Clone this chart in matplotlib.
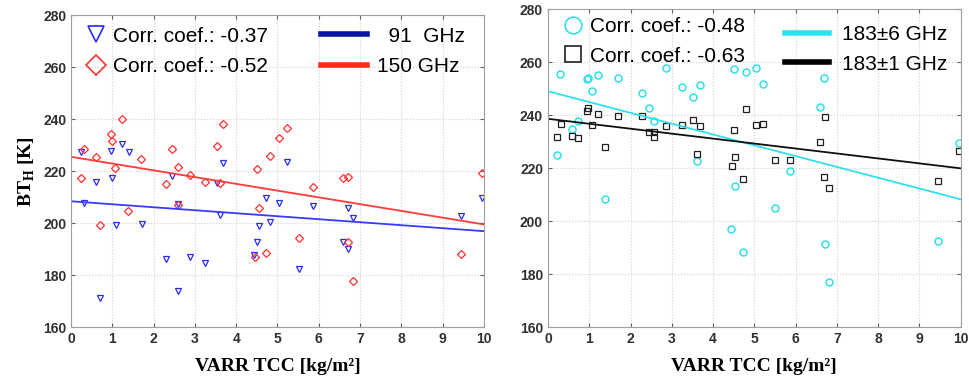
import numpy as np
import matplotlib
matplotlib.use("Agg")
from matplotlib import pyplot as plt
from matplotlib.lines import Line2D

# ---- data ----
# left panel: 91 GHz (triangles) and 150 GHz (diamonds)
x91 = [0.23, 0.6, 0.98, 0.99, 1.23, 1.4, 2.45, 3.53, 3.69, 5.23, 0.32, 0.71, 1.09, 1.71,
       2.3, 2.59, 2.59, 2.89, 3.25, 3.6, 4.44, 4.5, 4.55, 4.73, 4.81, 5.05, 5.52, 5.87,
       6.58, 6.7, 6.72, 6.84, 9.45, 9.96]
y91 = [227.2, 215.9, 227.8, 217.2, 230.6, 227.4, 218.1, 215.3, 223.2, 223.6, 207.6, 171.3,
       199.4, 199.6, 186.0, 207.4, 174.0, 187.0, 184.5, 203.3, 187.6, 192.6, 198.7, 209.6,
       200.4, 207.6, 182.4, 206.5, 192.6, 205.9, 190.1, 201.8, 202.9, 209.6]
x150 = [0.23, 0.31, 0.6, 0.98, 0.99, 1.07, 1.23, 1.7, 2.3, 2.45, 2.6, 2.89, 3.25, 3.53,
        3.6, 3.69, 4.5, 4.82, 5.05, 5.23, 5.87, 6.58, 6.72, 9.96, 0.71, 1.38, 2.58, 4.55,
        4.46, 4.73, 5.52, 6.72, 6.84, 9.45]
y150 = [217.2, 228.5, 225.3, 234.2, 231.5, 221.3, 240.0, 224.7, 214.9, 228.7, 221.7, 218.5,
        215.9, 229.7, 215.6, 238.0, 220.8, 225.9, 232.6, 236.4, 213.7, 217.2, 217.8, 219.1,
        199.1, 204.5, 207.0, 205.9, 187.1, 188.4, 194.3, 192.6, 177.8, 188.3]

# right panel: 183+-6 GHz (circles) and 183+-1 GHz (squares)
x183_6 = [0.23, 0.3, 0.59, 0.72, 0.95, 0.98, 1.06, 1.21, 1.69, 2.29, 2.44, 2.57, 2.87, 3.24,
          3.52, 3.6, 3.69, 4.5, 4.54, 4.8, 5.04, 5.22, 5.86, 6.58, 6.69, 9.96, 1.38, 4.44,
          4.72, 5.51, 6.7, 6.82, 9.44]
y183_6 = [224.8, 255.5, 234.9, 237.8, 253.6, 254.0, 249.2, 255.0, 254.0, 248.4, 242.8, 237.7,
          257.8, 250.5, 246.9, 222.8, 251.3, 257.4, 213.3, 256.4, 257.8, 251.8, 219.0, 242.9,
          254.0, 229.4, 208.2, 197.2, 188.3, 205.0, 191.3, 177.1, 192.5]
x183_1 = [0.23, 0.31, 0.59, 0.72, 0.95, 0.98, 1.06, 1.21, 1.38, 1.69, 2.29, 2.44, 2.57, 2.57,
          2.87, 3.24, 3.52, 3.6, 3.69, 4.45, 4.5, 4.54, 4.73, 4.8, 5.04, 5.22, 5.51, 5.86,
          6.58, 6.69, 6.7, 6.82, 9.44, 9.96]
y183_1 = [231.8, 236.8, 232.1, 231.4, 241.4, 242.6, 236.3, 240.5, 227.9, 239.5, 239.5, 233.8,
          233.8, 231.8, 235.7, 236.2, 238.3, 225.2, 235.9, 220.9, 234.4, 224.3, 215.7, 242.2,
          236.2, 236.7, 222.9, 222.9, 230.0, 216.7, 239.3, 212.5, 215.1, 226.6]

# regression lines (intercept, slope)
fit91 = (208.4, -1.15)
fit150 = (225.5, -2.60)
fit183_6 = (249.0, -4.08)
fit183_1 = (238.6, -1.87)

corr = {"91": -0.37, "150": -0.52, "183_6": -0.48, "183_1": -0.63}

plt.rcParams["font.family"] = ["Liberation Sans", "DejaVu Sans"]
plt.rcParams["mathtext.fontset"] = "custom"
plt.rcParams["mathtext.rm"] = "Liberation Serif:bold"
plt.rcParams["mathtext.bf"] = "Liberation Serif:bold"

fig = plt.figure(figsize=(9.69, 3.79), dpi=100)
ax1 = fig.add_axes([0.0733, 0.137, 0.426, 0.823])
ax2 = fig.add_axes([0.5655, 0.137, 0.426, 0.839])

xfit = np.array([0, 10])
ms = 5
lfs = 15


def style(ax):
    ax.set_xlim(0, 10)
    ax.set_ylim(160, 280)
    ax.set_xticks(range(0, 11))
    ax.set_yticks(range(160, 281, 20))
    ax.grid(True, color="#d0d0d0", linestyle=":", linewidth=0.8)
    ax.set_axisbelow(True)
    for s in ax.spines.values():
        s.set_color("#a0a0a0")
    ax.tick_params(direction="in", top=True, right=True, length=3, color="#606060",
                   labelsize=10, labelcolor="#303030")
    for lab in ax.get_xticklabels() + ax.get_yticklabels():
        lab.set_fontweight("bold")
    ax.set_xlabel("VARR TCC [kg/m²]", fontsize=14, fontweight="bold",
                  family="Liberation Serif", labelpad=9)


# left panel
ax1.plot(x91, y91, "v", mfc="none", mec="#2a2aff", ms=ms, mew=0.9)
ax1.plot(x150, y150, "D", mfc="none", mec="#ff3030", ms=ms - 0.5, mew=0.9)
ax1.plot(xfit, fit91[0] + fit91[1] * xfit, color="#3a3aff", lw=1.3)
ax1.plot(xfit, fit150[0] + fit150[1] * xfit, color="#ff3a3a", lw=1.3)
style(ax1)
ax1.set_ylabel("BT$_\\mathregular{H}$ [K]", fontsize=14, fontweight="bold",
               family="Liberation Serif", labelpad=4)

h1 = [Line2D([], [], ls="none", marker="v", mfc="none", mec="#2a2aff", ms=12, mew=1.2),
      Line2D([], [], ls="none", marker="D", mfc="none", mec="#ff3030", ms=10, mew=1.2)]
leg1 = ax1.legend(h1, ["Corr. coef.: %.2f" % corr["91"], "Corr. coef.: %.2f" % corr["150"]],
                  loc="upper left", bbox_to_anchor=(0.0, 1.01), frameon=False, fontsize=lfs,
                  handlelength=1.0, handletextpad=0.3, labelspacing=0.55, borderaxespad=0.3)
ax1.add_artist(leg1)
h2 = [Line2D([], [], color="#0a14a0", lw=4), Line2D([], [], color="#ff2a1a", lw=4)]
ax1.legend(h2, ["  91  GHz", "150 GHz"], loc="upper left", bbox_to_anchor=(0.57, 1.01),
           frameon=False, fontsize=lfs, handlelength=2.2, handletextpad=0.5,
           labelspacing=0.55, borderaxespad=0.3)

# right panel
ax2.plot(x183_6, y183_6, "o", mfc="none", mec="#30e0e8", ms=ms, mew=1.1)
ax2.plot(x183_1, y183_1, "s", mfc="none", mec="#202020", ms=ms - 0.5, mew=0.9)
ax2.plot(xfit, fit183_6[0] + fit183_6[1] * xfit, color="#30e0f0", lw=1.3)
ax2.plot(xfit, fit183_1[0] + fit183_1[1] * xfit, color="#101010", lw=1.3)
style(ax2)

h3 = [Line2D([], [], ls="none", marker="o", mfc="none", mec="#30e0e8", ms=12, mew=1.2),
      Line2D([], [], ls="none", marker="s", mfc="none", mec="#202020", ms=11, mew=1.2)]
leg3 = ax2.legend(h3, ["Corr. coef.: %.2f" % corr["183_6"], "Corr. coef.: %.2f" % corr["183_1"]],
                  loc="upper left", bbox_to_anchor=(0.0, 1.02), frameon=False, fontsize=lfs,
                  handlelength=1.0, handletextpad=0.3, labelspacing=0.5, borderaxespad=0.3)
ax2.add_artist(leg3)
h4 = [Line2D([], [], color="#30e0f0", lw=4), Line2D([], [], color="#000000", lw=4)]
ax2.legend(h4, ["183±6 GHz", "183±1 GHz"], loc="upper left", bbox_to_anchor=(0.54, 0.995),
           frameon=False, fontsize=lfs, handlelength=2.1, handletextpad=0.6,
           labelspacing=0.5, borderaxespad=0.3)

fig.savefig("out.png", dpi=100)
